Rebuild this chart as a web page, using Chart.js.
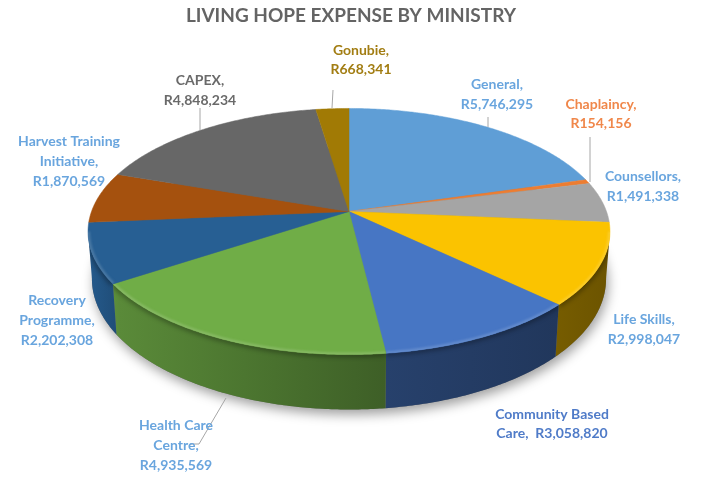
<!DOCTYPE html>
<html><head><meta charset="utf-8">
<style>html,body{margin:0;padding:0;background:#fff}canvas{display:block}</style>
<script src="https://cdn.jsdelivr.net/npm/chart.js@4/dist/chart.umd.js"></script>
</head><body><canvas id="c" width="702" height="477"></canvas>
<script>
const categories = ['General','Chaplaincy','Counsellors','Life Skills','Community Based Care','Health Care Centre','Recovery Programme','Harvest Training Initiative','CAPEX','Gonubie'];
const values = [5746295,154156,1491338,2998047,3058820,4935569,2202308,1870569,4848234,668341];
const colors = ['#5F9ED6','#ED7D31','#A5A5A5','#FBC300','#4776C4','#70AD47','#275F93','#A5510E','#676767','#A17A05'];
const labelColors = ['#69A5DE','#F0874A','#69A5DE','#69A5DE','#4F7BC8','#69A5DE','#69A5DE','#69A5DE','#6A6A6A','#A27D12'];
const money = v => 'R' + v.toLocaleString('en-US');
const labelLines = [
  ['General,',money(values[0])],
  ['Chaplaincy,',money(values[1])],
  ['Counsellors,',money(values[2])],
  ['Life Skills,',money(values[3])],
  ['Community Based','Care,  '+money(values[4])],
  ['Health Care','Centre,',money(values[5])],
  ['Recovery','Programme,',money(values[6])],
  ['Harvest Training','Initiative,',money(values[7])],
  ['CAPEX,',money(values[8])],
  ['Gonubie,',money(values[9])]
];
// layout (not data)
const anchors = [[497,84],[601,104],[643,176],[644,319],[552,414],[176,425],[57,300],[69,141],[200,80],[361,50]];
const lineH = [20,19,20,20,19,20,20,20,20,19];
const leaders = [[[488,117],[488,127]],[[590,137],[590,182]],[[200,108],[200,130]],[[333,90],[332,108]],[[226,398],[199,444],[190,444]]];

const CX=349, CY=211.5, A=257.5, B=119.8, K=0.1626, H=46;
function proj(t,low){
  const X=Math.cos(t),Y=Math.sin(t),d=1-K*Y;
  let x=A*X/d, y=B*Y/d;
  if(low){x*=0.985; y+=H/d;}
  return [CX+x,CY+y];
}
function rimPts(a,b,low){
  const n=Math.max(2,Math.ceil((b-a)/0.01)),p=[];
  for(let i=0;i<=n;i++)p.push(proj(a+(b-a)*i/n,low));
  return p;
}
function path(ctx,pts){ctx.moveTo(pts[0][0],pts[0][1]);for(let i=1;i<pts.length;i++)ctx.lineTo(pts[i][0],pts[i][1]);}
function rgb(h){return [1,3,5].map(i=>parseInt(h.substr(i,2),16));}
function shade(h,f){const c=rgb(h);return 'rgb('+c.map(v=>Math.round(v*f)).join(',')+')';}
function tint(h,f){const c=rgb(h);return 'rgb('+c.map(v=>Math.round(v+(255-v)*f)).join(',')+')';}

const WALL_FROM=0.163, WALL_TO=Math.PI-0.163;

// each pie arc draws itself as a projected face, from the angles Chart.js computed
Chart.ArcElement.prototype.draw=function(ctx){
  const a=this.startAngle,b=this.endAngle,col=this.options.backgroundColor;
  const rim=rimPts(a,b,false);
  ctx.save();
  ctx.beginPath();ctx.moveTo(CX,CY);rim.forEach(p=>ctx.lineTo(p[0],p[1]));ctx.closePath();
  ctx.fillStyle=col;ctx.fill();
  ctx.strokeStyle=col;ctx.lineWidth=0.5;ctx.stroke();
  ctx.clip();
  // bevel highlight along the front rim only
  const s=Math.max(a,WALL_FROM),e=Math.min(b,WALL_TO);
  if(e>s){
    ctx.beginPath();path(ctx,rimPts(s,e,false));
    ctx.filter='blur(1.2px)';ctx.strokeStyle=tint(col,0.16);ctx.lineWidth=4;ctx.stroke();
    ctx.filter='none';
  }
  ctx.restore();
};

const pie3d={id:'pie3d',
  beforeDatasetsDraw(chart){
    const ctx=chart.ctx,arcs=chart.getDatasetMeta(0).data;
    // soft shadow below the body
    ctx.save();
    const low=rimPts(0,Math.PI*2,true);
    ctx.beginPath();path(ctx,low);ctx.closePath();
    ctx.shadowColor='rgba(0,0,0,0.38)';ctx.shadowBlur=12;ctx.shadowOffsetY=5;ctx.shadowOffsetX=2;
    ctx.fillStyle='#777';ctx.fill();
    ctx.restore();
    // side wall, slice by slice, only the part that faces the viewer
    const stops=[[0,.95],[.06,.8],[.3,.68],[.57,.55],[.9,.47],[1,.43]];
    arcs.forEach(arc=>{
      const a=Math.max(arc.startAngle,WALL_FROM),b=Math.min(arc.endAngle,WALL_TO),col=arc.options.backgroundColor;
      if(b<=a)return;
      const top=rimPts(a,b,false),bot=rimPts(a,b,true).reverse();
      const g=ctx.createLinearGradient(88,0,609,0);
      stops.forEach(s=>g.addColorStop(s[0],shade(col,s[1])));
      ctx.save();
      ctx.beginPath();path(ctx,top.concat(bot));ctx.closePath();
      ctx.fillStyle=g;ctx.fill();
      ctx.clip();
      ctx.beginPath();path(ctx,top);
      ctx.filter='blur(2px)';ctx.strokeStyle='rgba(0,0,0,0.28)';ctx.lineWidth=6;ctx.stroke();
      ctx.filter='none';
      ctx.restore();
    });
  },
  afterDatasetsDraw(chart){
    const ctx=chart.ctx;
    ctx.save();
    ctx.strokeStyle='#A6A6A6';ctx.lineWidth=1;
    leaders.forEach(l=>{ctx.beginPath();path(ctx,l);ctx.stroke();});
    ctx.font='bold 14px Lato';ctx.textAlign='center';ctx.textBaseline='middle';
    labelLines.forEach((lines,i)=>{
      ctx.fillStyle=labelColors[i];
      lines.forEach((s,j)=>ctx.fillText(s,anchors[i][0],anchors[i][1]+j*lineH[i]));
    });
    ctx.restore();
  }
};

new Chart(document.getElementById('c'),{
  type:'pie',
  data:{labels:categories,datasets:[{data:values,backgroundColor:colors,borderWidth:0}]},
  options:{
    responsive:false,animation:false,
    events:[],
    layout:{padding:0},
    plugins:{
      legend:{display:false},tooltip:{enabled:false},
      title:{display:true,text:'LIVING HOPE EXPENSE BY MINISTRY',color:'#646464',
        font:{family:'Lato',size:19,weight:'bold'},padding:{top:4,bottom:4}}
    }
  },
  plugins:[pie3d]
});
</script></body></html>
